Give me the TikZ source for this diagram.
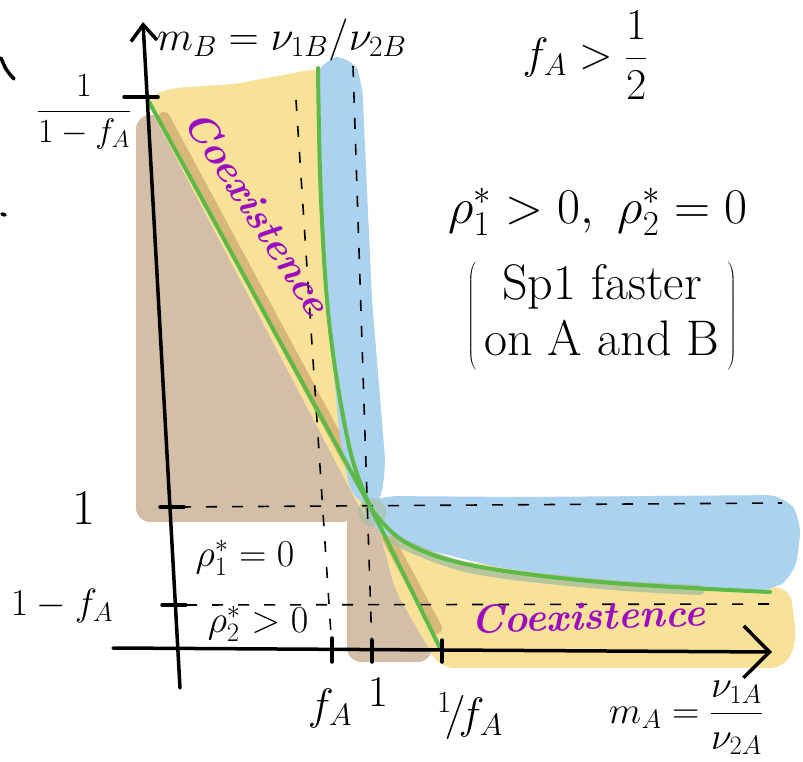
\RequirePackage{fix-cm}
\documentclass[tikz,border=0pt]{standalone}
\usetikzlibrary{arrows.meta}
\definecolor{tanc}{HTML}{D3BEA8}
\definecolor{yel}{HTML}{F8E29A}
\definecolor{sky}{HTML}{ABD2EF}
\definecolor{grn}{HTML}{5DBA47}
\definecolor{purp}{HTML}{9B0DC0}
\definecolor{mixband}{HTML}{D5B377}
\definecolor{mixgb}{HTML}{A9BFA0}
\tikzset{
  axisline/.style={line width=3.5pt,line cap=round},
  dashline/.style={line width=1.6pt,dash pattern=on 11pt off 15pt},
  tickline/.style={line width=3.5pt,line cap=round},
  greenline/.style={grn,line width=4pt,line cap=round,line join=round},
  lbl/.style={inner sep=0pt,font=\fontsize{44}{48}\selectfont},
  biglbl/.style={inner sep=0pt,font=\fontsize{50}{54}\selectfont},
  midlbl/.style={inner sep=0pt,font=\fontsize{38}{42}\selectfont},
  toplbl/.style={inner sep=0pt,font=\fontsize{42}{46}\selectfont},
  smlbl/.style={inner sep=0pt,font=\fontsize{34}{38}\selectfont},
  paren/.style={inner sep=0pt,font=\fontsize{50}{56}\selectfont},
  coex/.style={inner sep=0pt,text=purp,font=\fontsize{40}{44}\selectfont\itshape\bfseries},
}
\begin{document}
\begin{tikzpicture}[x=1pt,y=-1pt]
\useasboundingbox (0,0) rectangle (803,762);
% ---- coloured regions ----
\fill[tanc,rounded corners=14pt] (136,115) rectangle (356,522);
\fill[tanc,rounded corners=14pt] (347,500) rectangle (432,662);
\fill[yel,rounded corners=10pt] (150,96) -- (172,88) -- (235,84) -- (320,68) -- (330,300) -- (350,460) -- (368,520)
   -- (362,512) -- (150,108) -- cycle;
\draw[mixband,line width=12pt,opacity=0.9,line cap=round] (164,118) -- (361,484);
\fill[yel,rounded corners=14pt] (378,525) -- (440,558) -- (600,580) -- (790,588) -- (797,640) -- (785,668) -- (440,668) -- (395,590) -- cycle;
\draw[mixband,line width=12pt,opacity=0.9,line cap=round] (388,538) -- (436,628);
\fill[sky,rounded corners=18pt] (316,80) -- (322,58) -- (352,56) -- (362,80) -- (372,300) -- (386,470) -- (378,510)
   -- (352,500) -- (340,440) -- (327,300) -- cycle;
\fill[sky,rounded corners=18pt] (360,505) -- (380,496) -- (520,497) -- (785,495) -- (802,520) -- (795,575) -- (770,592)
   -- (640,585) -- (500,568) -- (420,548) -- (370,528) -- cycle;
\draw[mixgb,line width=10pt,opacity=0.8,line cap=round] plot[smooth,tension=0.6] coordinates {(395,540) (470,568) (600,584) (700,590)};
\fill[mixgb,opacity=0.6] (372,512) circle (14pt);
% ---- dashed guide lines ----
\coordinate (hA) at (180,507); \coordinate (hB) at (782,503);
\coordinate (lA) at (186,605); \coordinate (lB) at (775,604);
\coordinate (fT) at (296,100); \coordinate (fB) at (332,650);
\coordinate (oT) at (353,66);  \coordinate (oB) at (372,650);
\draw[dashline] (hA) -- (hB);
\draw[dashline] (lA) -- (lB);
\draw[dashline] (fT) -- (fB);
\draw[dashline] (oT) -- (oB);
% ---- green curves ----
\coordinate (X) at (372,510);
\draw[greenline] (148,100) -- (X) -- (440,648);
\draw[greenline] plot[smooth,tension=0.6] coordinates {(318,68) (321,200) (330,330) (350,450) (X)};
\draw[greenline] plot[smooth,tension=0.6] coordinates {(X) (405,542) (470,565) (600,582) (770,592)};
% ---- axes ----
\coordinate (ybot) at (180,688); \coordinate (ytop) at (143,22);
\coordinate (xl) at (113,648); \coordinate (xr) at (772,652);
\draw[axisline,-{Straight Barb[length=16pt,width=26pt,line width=3.5pt]}] (ybot) -- (ytop);
\draw[axisline,-{Straight Barb[length=26pt,width=52pt,line width=3.5pt]}] (xl) -- (xr);
% ticks
\draw[tickline] (124,97) -- (158,97);
\draw[tickline] (160,507) -- (184,507);
\draw[tickline] (162,605) -- (186,605);
\draw[tickline] (332,638) -- (332,662);
\draw[tickline] (372,640) -- (372,662);
\draw[tickline] (442,640) -- (442,662);
% fragments at left edge
\draw[line width=3.5pt,line cap=round] (1,58) .. controls (6,70) .. (14,79);
\draw[line width=3.5pt,line cap=round] (2,214) -- (5,215);
% ---- labels ----
\node[toplbl,anchor=west] (mB) at (157,40) {$m_B=\nu_{1B}/\nu_{2B}$};
\node[lbl] (fhalf) at (585,55) {$f_A>\displaystyle\frac{1}{2}$};
\node[biglbl] (rho12) at (598,212) {$\rho_1^*>0,\ \rho_2^*=0$};
\node[paren] (sp1) at (602,316) {$\left(\begin{tabular}{@{\,}c@{\,}}Sp1 faster\\ on A and B\end{tabular}\right)$};
\node[smlbl] (yinv) at (84,112) {$\displaystyle\frac{1}{1-f_A}$};
\node[biglbl] (yone) at (84,508) {$1$};
\node[midlbl] (ylow) at (62,606) {$1-f_A$};
\node[lbl] (xfa) at (330,708) {$f_A$};
\node[lbl] (xone) at (378,692) {$1$};
\node[lbl] (xinv) at (470,716) {${}^1\!/\!f_A$};
\node[midlbl] (mA) at (686,718) {$m_A=\displaystyle\frac{\nu_{1A}}{\nu_{2A}}$};
\node[midlbl] (r1) at (245,558) {$\rho_1^*=0$};
\node[midlbl] (r2) at (258,624) {$\rho_2^*>0$};
\node[coex,rotate=-57] (coex1) at (258,212) {Coexistence};
\node[coex,rotate=2] (coex2) at (588,616) {Coexistence};
\end{tikzpicture}
\end{document}
